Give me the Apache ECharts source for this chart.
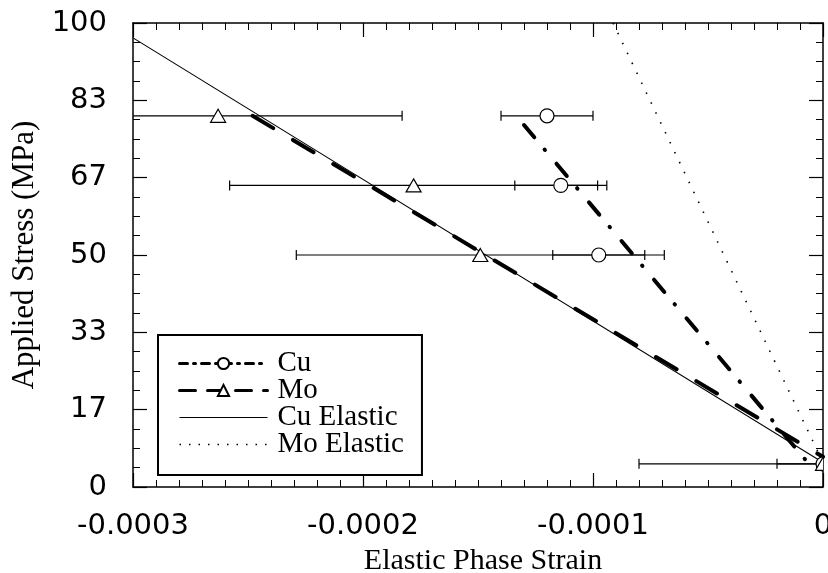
<!DOCTYPE html>
<html>
<head>
<meta charset="utf-8">
<script src="https://cdn.jsdelivr.net/npm/echarts@6/dist/echarts.min.js"></script>
<style>
  html, body { margin: 0; padding: 0; background: #fff; }
  #chart { width: 828px; height: 573px; }
</style>
</head>
<body>
<div id="chart"></div>
<script>
// Applied stress vs. elastic phase strain for the Cu and Mo phases
const stressLevels = [80, 65, 50, 5];
const cuStrain = [-0.000120, -0.000114, -0.0000975, 0];
const moStrain = [-0.000263, -0.000178, -0.000149, 0];
const cuStrainErr = [0.00002, 0.00002, 0.00002, 0.00002];
const moStrainErr = [0.00008, 0.00008, 0.00008, 0.00008];

// Trend lines through the measured strains
const cuFitStrain = [-0.000130, -0.0000065];
const cuFitStress = [78, 5.2];
const moFitStrain = [-0.000248, 0];
const moFitStress = [80, 6.5];

// Purely elastic predictions
const cuElasticStrain = [-0.0003, 0];
const cuElasticStress = [96.8, 5.3];
const moElasticStrain = [-0.0000913, 0];
const moElasticStress = [100, 5.3];

// Axis tick labels
const xTickLabels = ['-0.0003', '-0.0002', '-0.0001', '0'];
const yTickLabels = ['0', '17', '33', '50', '67', '83', '100'];

const zip = (xs, ys) => xs.map((x, i) => [x, ys[i]]);
const zip3 = (xs, ys, es) => xs.map((x, i) => [x, ys[i], es[i]]);

const INK = '#000';
const serif = 'Liberation Serif';
const sans = 'DejaVu Sans';

// Horizontal strain error bar with end caps, clamped to the plot area
function errorBar(params, api) {
  const x = api.value(0), y = api.value(1), e = api.value(2);
  const a = api.coord([x - e, y]);
  const b = api.coord([x + e, y]);
  const cs = params.coordSys;
  const x0 = Math.max(a[0], cs.x), x1 = Math.min(b[0], cs.x + cs.width);
  const st = { stroke: INK, lineWidth: 1.2 };
  const cap = 5;
  const kids = [{ type: 'line', shape: { x1: x0, y1: a[1], x2: x1, y2: b[1] }, style: st }];
  if (a[0] >= cs.x) kids.push({ type: 'line', shape: { x1: a[0], y1: a[1] - cap, x2: a[0], y2: a[1] + cap }, style: st });
  if (b[0] <= cs.x + cs.width) kids.push({ type: 'line', shape: { x1: b[0], y1: b[1] - cap, x2: b[0], y2: b[1] + cap }, style: st });
  return { type: 'group', children: kids };
}

const markerStyle = { fill: '#fff', stroke: INK, lineWidth: 1.2 };

// Hollow circle marker (Cu)
function circleMarker(params, api) {
  const p = api.coord([api.value(0), api.value(1)]);
  return { type: 'circle', shape: { cx: p[0], cy: p[1], r: 7 }, style: markerStyle };
}

// Hollow triangle marker (Mo)
function triangleMarker(params, api) {
  const p = api.coord([api.value(0), api.value(1)]);
  const w = 7.5, h = 6.5;
  return {
    type: 'polygon',
    shape: { points: [[p[0], p[1] - h], [p[0] + w, p[1] + h], [p[0] - w, p[1] + h]] },
    style: markerStyle
  };
}

const xBase = {
  type: 'value', min: -0.0003, max: 0, interval: 0.0001,
  axisLine: { show: true, onZero: false, lineStyle: { color: INK, width: 1.5 } },
  axisTick: { show: true, inside: true, length: 14, lineStyle: { color: INK, width: 1.2 } },
  minorTick: { show: true, splitNumber: 10, length: 7, lineStyle: { color: INK, width: 1 } },
  splitLine: { show: false }
};
const yBase = {
  type: 'value', min: 0, max: 100, interval: 100 / 6,
  axisLine: { show: true, onZero: false, lineStyle: { color: INK, width: 1.5 } },
  axisTick: { show: true, inside: true, length: 14, lineStyle: { color: INK, width: 1.2 } },
  minorTick: { show: true, splitNumber: 4, length: 7, lineStyle: { color: INK, width: 1 } },
  splitLine: { show: false }
};

const option = {
  backgroundColor: '#fff',
  animation: false,
  grid: { left: 133, right: 5, top: 23, bottom: 86, containLabel: false, outerBoundsMode: 'none' },
  xAxis: [
    Object.assign({}, xBase, {
      position: 'bottom',
      name: 'Elastic Phase Strain',
      nameLocation: 'middle',
      nameGap: 57,
      nameTextStyle: { fontFamily: serif, fontSize: 30, color: INK, padding: [0, 0, 0, 10] },
      axisLabel: {
        show: true, margin: 25, fontFamily: sans, fontSize: 29, color: INK,
        formatter: (v, i) => xTickLabels[i] !== undefined ? xTickLabels[i] : ''
      }
    }),
    Object.assign({}, xBase, { position: 'top', axisLabel: { show: false } })
  ],
  yAxis: [
    Object.assign({}, yBase, {
      position: 'left',
      name: 'Applied Stress (MPa)',
      nameLocation: 'middle',
      nameGap: 85,
      nameTextStyle: { fontFamily: serif, fontSize: 31, color: INK },
      axisLabel: {
        show: true, margin: 26, fontFamily: sans, fontSize: 29, color: INK,
        formatter: (v, i) => yTickLabels[i] !== undefined ? yTickLabels[i] : ''
      }
    }),
    Object.assign({}, yBase, { position: 'right', axisLabel: { show: false } })
  ],
  legend: {
    show: true,
    orient: 'vertical',
    left: 158,
    top: 335,
    padding: [14, 18, 16, 20],
    itemGap: -2,
    itemWidth: 88,
    itemHeight: 14,
    selectedMode: false,
    borderColor: INK,
    borderWidth: 2,
    backgroundColor: '#fff',
    textStyle: { fontFamily: serif, fontSize: 29, color: INK, lineHeight: 27, padding: [0, 0, 0, 5] },
    data: [
      { name: 'Cu', lineStyle: { width: 3, type: [8, 6, 2, 6] } },
      { name: 'Mo', lineStyle: { width: 3, type: [16, 12] } },
      { name: 'Cu Elastic', lineStyle: { width: 1, type: 'solid' }, itemStyle: { opacity: 0 } },
      { name: 'Mo Elastic', lineStyle: { width: 1.3, type: [1.5, 8] }, itemStyle: { opacity: 0 } }
    ]
  },
  series: [
    {
      name: 'Cu Elastic', type: 'line', xAxisIndex: 0, yAxisIndex: 0,
      data: zip(cuElasticStrain, cuElasticStress),
      symbol: 'none', color: INK,
      lineStyle: { color: INK, width: 1.1, type: 'solid' }, z: 2
    },
    {
      name: 'Mo Elastic', type: 'line', xAxisIndex: 0, yAxisIndex: 0,
      data: zip(moElasticStrain, moElasticStress),
      symbol: 'none', color: INK,
      lineStyle: { color: INK, width: 1.6, type: [1.5, 9.5] }, z: 2
    },
    {
      name: 'Cu', type: 'line', xAxisIndex: 0, yAxisIndex: 0,
      data: zip(cuFitStrain, cuFitStress),
      symbol: 'emptyCircle', showSymbol: false, color: INK,
      lineStyle: { color: INK, width: 4, type: [16, 16, 0.5, 18], cap: 'round' }, z: 3
    },
    {
      name: 'Mo', type: 'line', xAxisIndex: 0, yAxisIndex: 0,
      data: zip(moFitStrain, moFitStress),
      symbol: 'emptyTriangle', showSymbol: false, color: INK,
      lineStyle: { color: INK, width: 4, type: [24, 23], cap: 'round' }, z: 3
    },
    {
      name: 'Cu error', type: 'custom', xAxisIndex: 0, yAxisIndex: 0,
      data: zip3(cuStrain, stressLevels, cuStrainErr),
      renderItem: errorBar, z: 4
    },
    {
      name: 'Mo error', type: 'custom', xAxisIndex: 0, yAxisIndex: 0,
      data: zip3(moStrain, stressLevels, moStrainErr),
      renderItem: errorBar, z: 4
    },
    {
      name: 'Cu points', type: 'custom', xAxisIndex: 0, yAxisIndex: 0,
      data: zip(cuStrain, stressLevels),
      renderItem: circleMarker, clip: true, z: 5
    },
    {
      name: 'Mo points', type: 'custom', xAxisIndex: 0, yAxisIndex: 0,
      data: zip(moStrain, stressLevels),
      renderItem: triangleMarker, clip: true, z: 5
    }
  ]
};

const chart = echarts.init(document.getElementById('chart'), null, { renderer: 'canvas' });
chart.setOption(option);
</script>
</body>
</html>
